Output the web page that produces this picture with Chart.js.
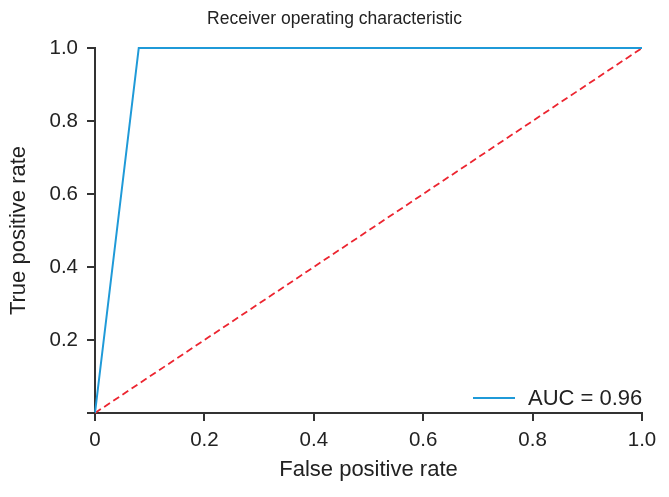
<!DOCTYPE html>
<html>
<head>
<meta charset="utf-8">
<script src="https://cdn.jsdelivr.net/npm/chart.js@4.4.1/dist/chart.umd.min.js"></script>
<style>
  html, body { margin: 0; padding: 0; background: #fff; }
  #wrap { width: 669px; height: 497px; }
</style>
</head>
<body>
<div id="wrap"><canvas id="roc"></canvas></div>
<script>
// ROC curve values
const fpr = [0, 0.08, 1];
const tpr = [0, 1, 1];
const chanceX = [0, 1];
const chanceY = [0, 1];
const aucLabel = 'AUC = 0.96';
const tickValues = [0, 0.2, 0.4, 0.6, 0.8, 1.0];

const axisColor = '#333333';
const font = 'Liberation Sans, Arial, sans-serif';

const toPoints = (xs, ys) => xs.map((x, i) => ({ x: x, y: ys[i] }));

// legend drawn in the lower right of the plot
const legendPlugin = {
    id: 'rocLegend',
    afterDraw(chart) {
        const ctx = chart.ctx;
        const area = chart.chartArea;
        const ds = chart.data.datasets[0];
        const y = area.bottom - 15;
        const x0 = area.right - 169;
        ctx.save();
        ctx.strokeStyle = ds.borderColor;
        ctx.lineWidth = 2;
        ctx.beginPath();
        ctx.moveTo(x0, y);
        ctx.lineTo(x0 + 42, y);
        ctx.stroke();
        ctx.fillStyle = '#222';
        ctx.font = '22px ' + font;
        ctx.textBaseline = 'middle';
        ctx.fillText(ds.label, x0 + 55, y + 1);
        ctx.restore();
    }
};

// x axis line reaches a little past the y axis, like the original
const axisStub = {
    id: 'axisStub',
    afterDraw(chart) {
        const ctx = chart.ctx;
        const area = chart.chartArea;
        ctx.save();
        ctx.strokeStyle = axisColor;
        ctx.lineWidth = 2;
        ctx.beginPath();
        ctx.moveTo(area.left - 8, area.bottom);
        ctx.lineTo(area.left, area.bottom);
        ctx.stroke();
        ctx.restore();
    }
};

new Chart(document.getElementById('roc'), {
    type: 'scatter',
    data: {
        datasets: [
            {
                label: aucLabel,
                data: toPoints(fpr, tpr),
                showLine: true,
                borderColor: '#1f9ad8',
                borderWidth: 2,
                pointRadius: 0,
                fill: false,
                clip: false
            },
            {
                label: 'chance',
                data: toPoints(chanceX, chanceY),
                showLine: true,
                borderColor: '#ec2530',
                borderWidth: 1.8,
                borderDash: [7, 4],
                pointRadius: 0,
                fill: false,
                clip: false
            }
        ]
    },
    options: {
        responsive: true,
        maintainAspectRatio: false,
        animation: false,
        layout: { padding: 0 },
        plugins: {
            legend: { display: false },
            tooltip: { enabled: false },
            title: {
                display: true,
                text: 'Receiver operating characteristic',
                color: '#222',
                font: { family: font, size: 17.5, weight: 'normal' },
                padding: { top: 9, bottom: 18 }
            }
        },
        scales: {
            x: {
                type: 'linear',
                min: 0,
                max: 1,
                afterBuildTicks: s => { s.ticks = tickValues.map(v => ({ value: v })); },
                afterFit: s => { s.height = 84; },
                grid: { drawOnChartArea: false, drawTicks: true, tickLength: 8, color: axisColor, lineWidth: 2 },
                border: { display: true, color: axisColor, width: 2 },
                ticks: {
                    color: '#222',
                    padding: 7,
                    font: { family: font, size: 20.5 },
                    callback: v => v === 0 ? '0' : v.toFixed(1)
                },
                title: {
                    display: true,
                    text: 'False positive rate',
                    color: '#222',
                    font: { family: font, size: 22 },
                    padding: { top: 0, bottom: 14 }
                }
            },
            y: {
                type: 'linear',
                min: 0,
                max: 1,
                afterBuildTicks: s => { s.ticks = tickValues.map(v => ({ value: v })); },
                afterFit: s => { s.width = 95; },
                grid: { drawOnChartArea: false, drawTicks: true, tickLength: 8, color: axisColor, lineWidth: 2 },
                border: { display: true, color: axisColor, width: 2 },
                ticks: {
                    color: '#222',
                    padding: 9,
                    font: { family: font, size: 20.5 },
                    callback: v => v === 0 ? '' : v.toFixed(1)
                },
                title: {
                    display: true,
                    text: 'True positive rate',
                    color: '#222',
                    font: { family: font, size: 22 },
                    padding: { top: 6, bottom: 0 }
                }
            },
            yRight: {
                type: 'linear',
                position: 'right',
                display: true,
                grid: { display: false },
                border: { display: false },
                ticks: { display: false },
                afterFit: s => { s.width = 27; }
            }
        }
    },
    plugins: [legendPlugin, axisStub]
});
</script>
</body>
</html>
